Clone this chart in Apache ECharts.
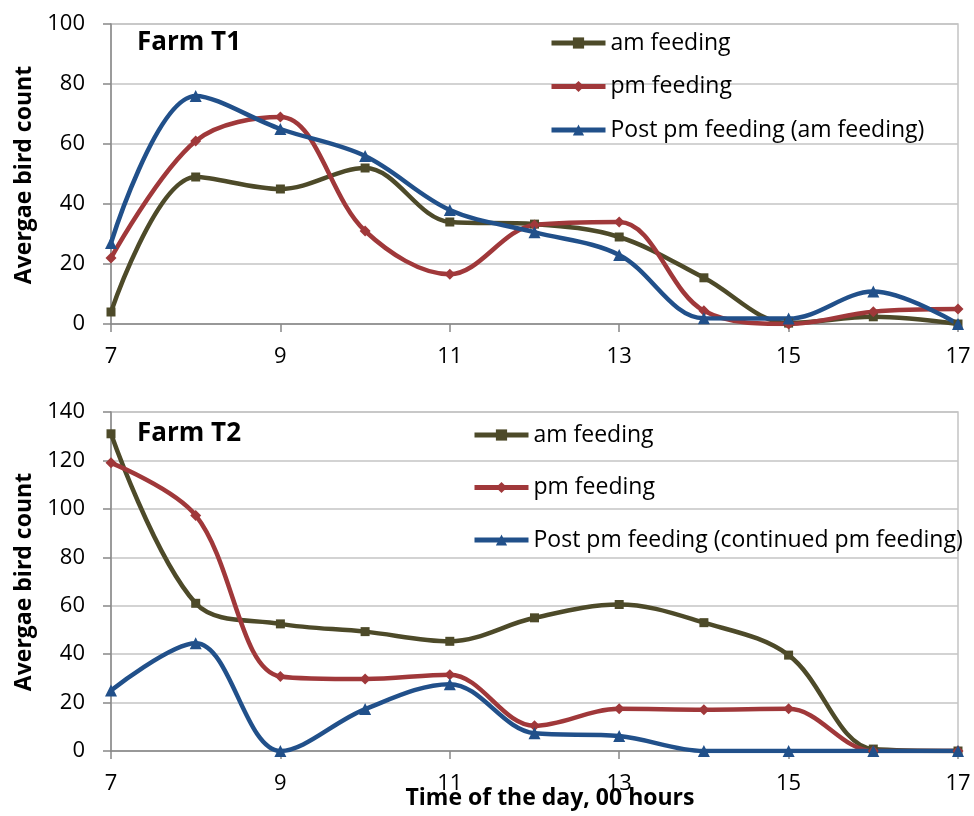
<!DOCTYPE html>
<html>
<head>
<meta charset="utf-8">
<script src="https://cdn.jsdelivr.net/npm/echarts@6/dist/echarts.min.js"></script>
<style>
  html, body { margin: 0; padding: 0; background: #fff; }
  #chart { width: 974px; height: 816px; }
</style>
</head>
<body>
<div id="chart"></div>
<script>
// hours of the day (x axis)
var hours = ['7', '8', '9', '10', '11', '12', '13', '14', '15', '16', '17'];

// Farm T1
var t1Am = [4, 49, 45, 52, 34, 33.3, 29, 15.4, 0.3, 2.4, 0];
var t1Pm = [22, 61, 69, 31, 16.6, 33, 34, 4.4, 0, 4.1, 5];
var t1Post = [27, 76, 65, 56, 38, 30.6, 23, 1.9, 1.8, 10.8, 0];

// Farm T2
var t2Am = [131, 61, 52.5, 49.3, 45.3, 55, 60.5, 53, 39.6, 0.8, 0];
var t2Pm = [119, 97.3, 30.8, 29.7, 31.5, 10.4, 17.4, 17, 17.4, 0, 0];
var t2Post = [25, 44.5, 0, 17.3, 27.6, 7.3, 6.2, 0, 0, 0, 0];

var names1 = ['am feeding', 'pm feeding', 'Post pm feeding (am feeding)'];
var names2 = ['am feeding', 'pm feeding', 'Post pm feeding (continued pm feeding)'];

var C_AM = '#4d4a29', C_PM = '#a0383a', C_POST = '#21508a';
var FONT = 'Open Sans';

function xAxis(gridIndex){
  return {
    type: 'category', gridIndex: gridIndex, data: hours, boundaryGap: false,
    axisLine: { lineStyle: { color: '#888', width: 1.5 } },
    axisTick: { show: true, interval: 1, length: 8, lineStyle: { color: '#888', width: 1.5 } },
    axisLabel: { interval: 1, margin: 22, color: '#000', fontSize: 22, fontFamily: FONT },
    splitLine: { show: false }
  };
}
function yAxis(gridIndex, max){
  return {
    type: 'value', gridIndex: gridIndex, min: 0, max: max, interval: 20,
    axisLine: { show: true, lineStyle: { color: '#888', width: 1.5 } },
    axisTick: { show: true, length: 8, lineStyle: { color: '#888', width: 1.5 } },
    axisLabel: { margin: 26, color: '#000', fontSize: 22, fontFamily: FONT },
    splitLine: { lineStyle: { color: '#c4c4c4', width: 1.5 } }
  };
}
function line(name, data, color, symbol, size, idx){
  return {
    name: name, type: 'line', data: data, xAxisIndex: idx, yAxisIndex: idx,
    smooth: 0.35, symbol: symbol, symbolSize: size, showSymbol: true,
    lineStyle: { color: color, width: 4.5 },
    itemStyle: { color: color },
    emphasis: { disabled: true }
  };
}
function legend(names, left, top, gap){
  return {
    orient: 'vertical', left: left, top: top, padding: 0, itemGap: gap,
    itemWidth: 54, itemHeight: 14, data: names,
    lineStyle: { width: 5 },
    textStyle: { fontSize: 23, lineHeight: 26, color: '#000', fontFamily: FONT }
  };
}
function label(text, x, y, rot, size){
  return {
    type: 'text', x: x, y: y, rotation: rot || 0,
    style: { text: text, fill: '#000', font: 'bold ' + size + 'px "' + FONT + '"', align: 'center', verticalAlign: 'middle' }
  };
}

var chart = echarts.init(document.getElementById('chart'), null, { renderer: 'canvas' });
chart.setOption({
  animation: false,
  backgroundColor: '#fff',
  grid: [
    { left: 111, right: 16, top: 24, height: 300, show: true, borderColor: '#c4c4c4', borderWidth: 1.5 },
    { left: 111, right: 16, top: 412, height: 339, show: true, borderColor: '#c4c4c4', borderWidth: 1.5 }
  ],
  xAxis: [xAxis(0), xAxis(1)],
  yAxis: [yAxis(0, 100), yAxis(1, 140)],
  legend: [legend(names1, 549, 30, 17.5), legend(names2, 472, 422, 26.5)],
  graphic: [
    label('Farm T1', 189, 43, 0, 26),
    label('Farm T2', 189, 434, 0, 26),
    label('Avergae bird count', 24, 175, Math.PI / 2, 23),
    label('Avergae bird count', 24, 582, Math.PI / 2, 23),
    label('Time of the day, 00 hours', 550, 798, 0, 23)
  ],
  series: [
    line(names1[0], t1Am, C_AM, 'rect', 9, 0),
    line(names1[1], t1Pm, C_PM, 'diamond', 11, 0),
    line(names1[2], t1Post, C_POST, 'triangle', 12, 0),
    line(names2[0], t2Am, C_AM, 'rect', 9, 1),
    line(names2[1], t2Pm, C_PM, 'diamond', 11, 1),
    line(names2[2], t2Post, C_POST, 'triangle', 12, 1)
  ]
});
</script>
</body>
</html>
